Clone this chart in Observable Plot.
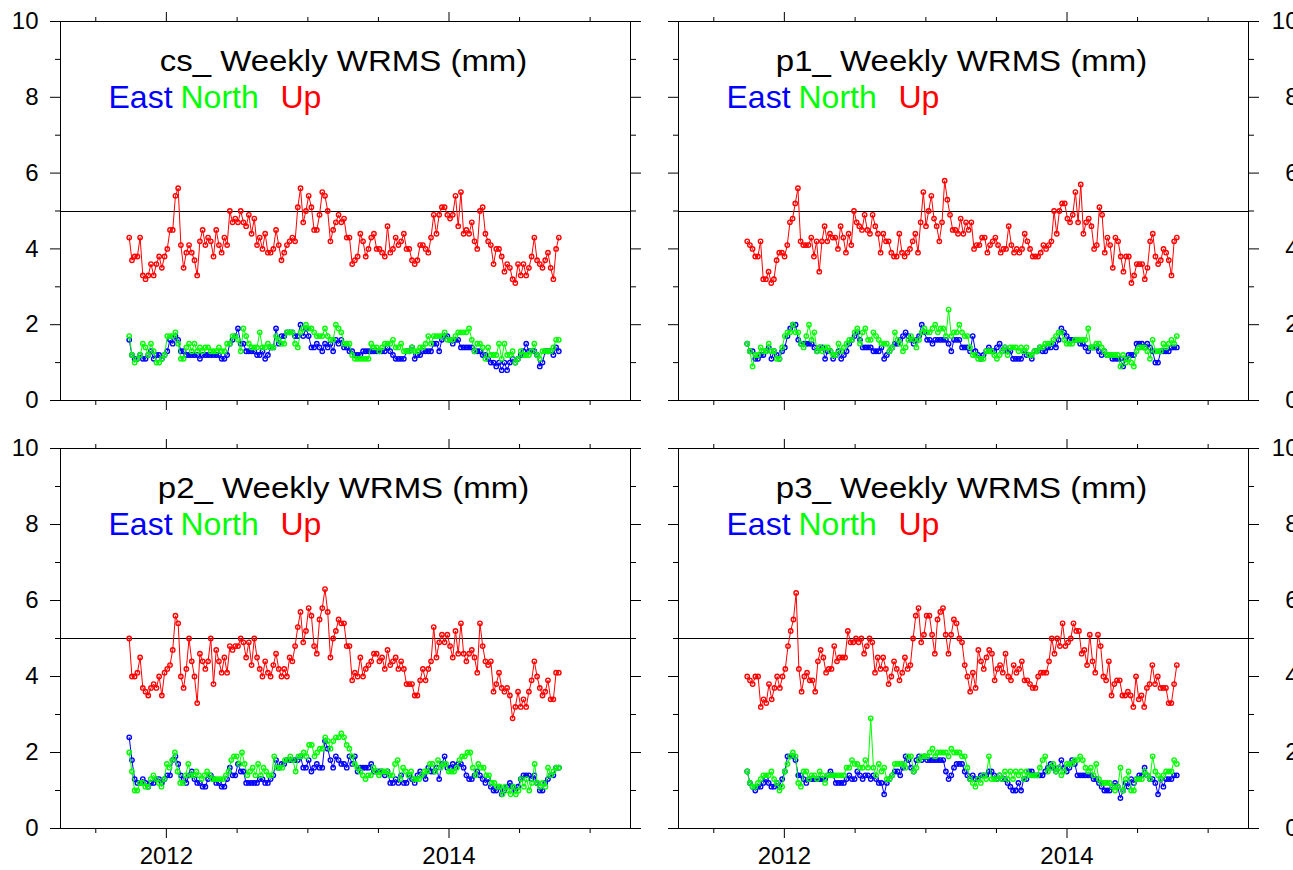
<!DOCTYPE html>
<html><head><meta charset="utf-8">
<script src="https://cdn.jsdelivr.net/npm/d3@7"></script>
<script src="https://cdn.jsdelivr.net/npm/@observablehq/plot@0.6"></script>
<style>
body{margin:0;background:#fff;}
#wrap{position:relative;width:1293px;height:870px;overflow:hidden;background:#fff;}
.panel{position:absolute;}
</style></head><body><div id="wrap"></div>
<script>
// ---------------- data ----------------
const stations = ["cs", "p1", "p2", "p3"];
const components = ["East", "North", "Up"];
const componentColors = ["#0000ff", "#00ff00", "#ff0000"];
const yMajorTicks = [0, 2, 4, 6, 8, 10];
const yMinorTicks = [1, 3, 5, 7, 9];
const referenceLevel = [5];
const xMajorYears = [2012, 2014];
const xMinorYears = [2011.5, 2012.5, 2013, 2013.5, 2014.5, 2015];
const xDomainYears = [2011.25, 2015.286];
const firstWeek = "2011-09-27", lastWeek = "2014-10-12";

const csEast = [1.6,1.2,1.1,1.1,1.2,1.1,1.1,1.2,1.3,1.1,1.2,1.2,1.1,1.2,1.3,1.6,1.5,1.7,1.6,1.3,1.3,1.2,1.2,1.2,1.2,1.2,1.1,1.2,1.2,1.2,1.2,1.2,1.2,1.2,1.1,1.1,1.2,1.5,1.6,1.7,1.9,1.5,1.5,1.3,1.3,1.3,1.3,1.2,1.2,1.3,1.1,1.2,1.4,1.4,1.9,1.5,1.7,1.7,1.8,1.8,1.8,1.7,1.7,2.0,1.7,1.9,1.7,1.4,1.4,1.5,1.4,1.3,1.5,1.4,1.5,1.3,1.6,1.5,1.6,
1.4,1.4,1.3,1.3,1.2,1.2,1.2,1.3,1.3,1.3,1.3,1.3,1.3,1.3,1.3,1.3,1.4,1.3,1.2,1.1,1.1,1.1,1.1,1.3,1.3,1.4,1.1,1.2,1.2,1.3,1.3,1.3,1.3,1.5,1.5,1.3,1.6,1.7,1.7,1.6,1.5,1.6,1.6,1.4,1.4,1.4,1.4,1.4,1.3,1.3,1.3,1.2,1.2,1.1,1.0,1.0,0.9,1.0,0.8,1.0,0.8,1.0,1.1,1.0,1.1,1.2,1.3,1.5,1.3,1.3,1.3,1.2,0.9,1.0,1.3,1.3,1.3,1.2,1.4,1.3];
const csNorth = [1.7,1.2,1.0,1.1,1.2,1.5,1.4,1.2,1.5,1.3,1.0,1.0,1.1,1.2,1.7,1.7,1.7,1.8,1.5,1.1,1.1,1.4,1.5,1.3,1.5,1.3,1.4,1.3,1.4,1.4,1.3,1.3,1.3,1.4,1.3,1.3,1.5,1.5,1.7,1.7,1.6,1.3,1.9,1.7,1.5,1.4,1.4,1.4,1.8,1.4,1.4,1.5,1.4,1.4,1.7,1.6,1.5,1.5,1.8,1.8,1.8,1.5,1.4,1.8,1.9,2.0,1.9,1.9,1.8,1.7,1.7,1.7,1.9,1.7,1.6,1.6,2.0,1.9,1.8,
1.5,1.5,1.5,1.2,1.1,1.1,1.1,1.1,1.1,1.1,1.5,1.4,1.4,1.3,1.4,1.5,1.5,1.5,1.6,1.4,1.4,1.5,1.3,1.3,1.3,1.4,1.3,1.3,1.4,1.4,1.5,1.7,1.5,1.7,1.7,1.7,1.7,1.8,1.6,1.6,1.6,1.7,1.8,1.8,1.8,1.8,1.9,1.6,1.3,1.5,1.5,1.4,1.1,1.4,1.2,1.2,1.2,1.5,1.1,1.5,1.2,1.2,1.3,1.0,1.1,1.3,1.2,1.2,1.2,1.3,1.5,1.2,1.1,1.3,1.3,1.3,1.3,1.4,1.6,1.6];
const csUp = [4.3,3.7,3.8,3.8,4.3,3.3,3.2,3.3,3.6,3.3,3.6,3.8,3.5,3.8,4.0,4.5,4.5,5.4,5.6,4.1,3.5,3.9,4.1,3.9,3.7,3.3,4.2,4.5,4.1,4.3,4.2,3.8,4.5,4.1,3.9,4.3,4.1,5.0,4.7,4.8,4.7,5.0,4.7,4.6,4.9,4.4,4.8,4.1,4.3,4.0,4.4,3.9,3.9,4.0,4.5,4.1,3.7,3.9,4.1,4.2,4.3,4.2,5.1,5.6,4.7,5.0,5.4,5.1,4.5,4.5,4.9,5.5,5.4,5.0,4.2,4.5,4.7,4.9,4.7,
4.8,4.3,4.3,3.6,3.7,3.8,4.4,4.2,3.8,4.0,4.3,4.4,4.0,4.0,3.9,3.8,4.6,3.9,4.0,4.3,4.1,4.2,4.4,4.0,4.0,3.7,3.6,3.7,4.1,4.1,4.0,3.9,4.3,4.9,4.4,4.9,5.1,5.1,4.9,4.8,4.9,5.4,4.6,5.5,4.4,4.5,4.4,4.7,4.2,4.0,5.0,5.1,4.4,4.2,4.1,3.6,4.0,4.0,3.8,3.4,3.6,3.5,3.2,3.1,3.6,3.3,3.6,3.3,3.5,3.8,4.3,3.7,3.6,3.5,3.7,3.9,3.5,3.2,4.0,4.3];

const p1East = [1.5,1.3,1.3,1.1,1.1,1.2,1.2,1.3,1.4,1.1,1.3,1.2,1.1,1.3,1.4,1.7,1.9,2.0,2.0,1.6,1.5,1.5,1.5,1.5,1.5,1.4,1.3,1.4,1.4,1.1,1.3,1.3,1.1,1.2,1.3,1.1,1.2,1.3,1.5,1.6,1.7,1.8,1.6,1.4,1.4,1.4,1.4,1.3,1.3,1.3,1.4,1.1,1.2,1.3,1.4,1.5,1.5,1.6,1.7,1.8,1.7,1.6,1.5,1.6,1.7,2.0,1.8,1.6,1.6,1.5,1.6,1.6,1.6,1.6,1.6,1.5,1.3,1.6,1.6,1.6,
1.4,1.4,1.4,1.3,1.7,1.3,1.2,1.1,1.2,1.3,1.4,1.3,1.3,1.4,1.5,1.3,1.4,1.3,1.3,1.1,1.1,1.1,1.1,1.3,1.2,1.2,1.1,1.3,1.3,1.4,1.3,1.3,1.4,1.4,1.5,1.4,1.6,1.9,1.8,1.7,1.6,1.6,1.6,1.6,1.5,1.5,1.4,1.3,1.4,1.4,1.4,1.3,1.2,1.3,1.2,1.2,1.1,1.1,1.1,1.1,0.9,1.1,1.2,1.2,1.2,1.5,1.5,1.5,1.4,1.5,1.4,1.3,1.0,1.0,1.3,1.3,1.3,1.3,1.4,1.4,1.4];
const p1North = [1.5,1.3,0.9,1.2,1.2,1.4,1.3,1.3,1.5,1.3,1.3,1.1,1.1,1.4,1.7,1.8,1.8,2.0,1.8,1.8,1.5,1.4,1.7,2.0,1.6,1.8,1.3,1.4,1.3,1.4,1.4,1.3,1.2,1.2,1.5,1.3,1.4,1.5,1.6,1.6,1.8,1.9,1.5,1.8,1.9,1.6,1.6,1.8,1.7,1.6,1.5,1.5,1.5,1.3,1.4,1.8,1.6,1.5,1.3,1.4,1.6,1.7,1.6,1.4,1.6,1.8,1.9,1.8,1.8,1.9,2.0,1.8,1.9,1.9,1.7,2.4,1.7,1.8,1.8,2.0,
1.8,1.7,1.7,1.4,1.2,1.2,1.1,1.1,1.1,1.3,1.3,1.3,1.2,1.1,1.2,1.3,1.4,1.2,1.4,1.4,1.4,1.3,1.4,1.3,1.4,1.2,1.2,1.3,1.3,1.4,1.4,1.5,1.5,1.5,1.6,1.7,1.8,1.8,1.6,1.5,1.5,1.5,1.6,1.6,1.6,1.6,1.6,1.9,1.4,1.4,1.5,1.5,1.4,1.3,1.2,1.2,1.2,1.2,1.2,0.9,1.2,1.0,1.1,1.0,0.9,1.3,1.4,1.4,1.4,1.3,1.1,1.6,1.3,1.3,1.3,1.5,1.4,1.5,1.6,1.5,1.7];
const p1Up = [4.2,4.1,4.0,3.8,3.8,4.2,3.2,3.2,3.4,3.1,3.2,3.7,3.9,3.9,3.8,4.1,4.7,4.8,5.2,5.6,
4.2,4.1,4.1,4.1,4.3,3.8,4.2,3.4,4.2,4.6,4.2,4.4,4.3,4.3,4.0,4.6,4.3,3.9,4.4,4.1,5.0,4.7,4.6,4.5,4.9,4.5,4.4,4.9,4.6,4.4,3.9,4.4,4.2,4.2,3.9,3.8,3.8,4.4,3.9,3.8,3.9,4.0,4.2,4.4,3.9,4.7,5.5,4.6,5.0,5.4,4.8,4.6,4.2,4.7,5.8,5.3,4.9,4.5,4.5,4.4,4.8,4.4,
4.7,4.5,4.7,4.0,4.1,4.1,4.3,4.3,3.9,4.1,4.2,4.3,4.1,3.9,4.0,4.0,4.6,4.1,3.9,4.0,3.9,4.0,4.4,4.2,4.0,3.8,3.8,3.8,3.9,4.1,4.0,4.1,4.2,5.0,4.4,5.0,5.2,5.2,4.8,4.7,4.9,5.5,4.7,5.7,4.4,4.7,4.8,4.6,4.0,4.1,5.1,4.9,3.9,4.3,4.1,3.5,4.3,4.2,3.8,3.4,3.8,3.8,3.1,3.3,3.6,3.6,3.6,3.2,3.5,4.2,4.4,3.8,3.6,3.7,4.0,3.9,3.7,3.3,4.2,4.3];

const p2East = [2.4,1.8,1.3,1.2,1.2,1.3,1.2,1.1,1.2,1.2,1.3,1.3,1.2,1.3,1.4,1.4,1.8,1.9,1.7,1.4,1.3,1.2,1.4,1.5,1.3,1.2,1.2,1.1,1.1,1.3,1.4,1.3,1.2,1.2,1.1,1.1,1.3,1.6,1.4,1.4,1.7,1.5,1.5,1.2,1.2,1.2,1.2,1.2,1.3,1.3,1.2,1.2,1.3,1.4,1.8,1.6,1.7,1.7,1.8,1.8,1.8,1.8,1.8,1.9,1.6,1.6,1.8,1.5,1.6,1.7,1.6,1.6,2.3,2.1,1.8,1.6,1.9,1.8,1.7,
1.7,1.6,1.9,1.7,1.9,1.5,1.6,1.6,1.6,1.6,1.7,1.5,1.5,1.5,1.5,1.4,1.5,1.2,1.2,1.3,1.2,1.4,1.2,1.2,1.4,1.3,1.2,1.4,1.5,1.4,1.3,1.6,1.5,1.5,1.6,1.3,1.7,1.9,1.6,1.6,1.7,1.6,1.7,1.7,1.6,1.4,1.3,1.3,1.4,1.5,1.4,1.3,1.2,1.3,1.1,1.0,1.0,1.1,0.9,1.0,1.1,1.2,1.1,1.0,1.1,1.3,1.4,1.4,1.4,1.3,1.4,1.2,1.0,1.0,1.2,1.3,1.4,1.4,1.6,1.6];
const p2North = [2.0,1.5,1.0,1.0,1.2,1.2,1.1,1.1,1.3,1.4,1.3,1.2,1.1,1.3,1.7,1.6,1.8,2.0,1.5,1.2,1.2,1.4,1.7,1.4,1.4,1.5,1.4,1.3,1.4,1.5,1.4,1.3,1.3,1.3,1.3,1.3,1.4,1.5,1.8,1.9,1.9,1.7,2.0,1.7,1.4,1.5,1.6,1.4,1.7,1.4,1.6,1.5,1.4,1.4,1.9,1.6,1.6,1.6,1.8,1.8,1.9,1.8,1.5,1.9,1.9,2.0,1.9,2.2,2.2,1.9,2.0,2.1,2.1,2.4,2.3,2.1,2.3,2.4,2.4,
2.5,2.4,2.2,2.1,1.9,1.7,1.6,1.5,1.4,1.3,1.4,1.4,1.6,1.5,1.4,1.5,1.5,1.5,1.4,1.4,1.7,1.8,1.3,1.6,1.5,1.4,1.5,1.3,1.3,1.3,1.4,1.5,1.5,1.7,1.7,1.5,1.8,1.6,1.7,1.7,1.5,1.5,1.5,1.6,1.8,1.9,1.9,2.0,2.0,1.6,1.4,1.7,1.6,1.6,1.4,1.4,1.2,1.2,1.1,1.1,0.9,1.1,1.0,0.9,1.1,0.9,1.0,1.3,1.1,1.3,1.0,1.2,1.7,1.2,1.1,1.2,1.1,1.6,1.4,1.5,1.6,1.6];
const p2Up = [5.0,4.0,4.0,4.1,4.5,3.7,3.6,3.5,3.7,3.8,3.7,4.0,3.5,4.1,4.2,4.3,4.7,5.6,5.4,4.0,3.7,4.2,5.0,4.4,4.0,3.3,4.6,4.4,4.2,4.4,5.0,3.8,4.7,4.4,4.1,4.5,4.1,4.8,4.7,4.8,4.8,5.0,4.9,4.5,4.9,4.3,5.0,4.5,4.2,4.0,4.4,4.1,4.0,4.3,4.6,4.2,4.0,4.2,4.0,4.5,4.4,4.8,5.3,5.7,4.9,5.2,5.8,5.6,4.8,4.6,5.5,5.8,6.3,5.7,4.5,5.0,5.2,5.5,5.4,
5.4,4.8,4.8,3.9,4.1,4.0,4.5,4.0,4.2,4.3,4.4,4.6,4.6,4.4,4.5,4.2,4.7,4.3,4.4,4.5,4.2,4.4,4.2,3.8,3.8,3.8,3.5,3.5,3.9,4.2,3.9,4.2,4.4,5.3,4.5,4.9,5.1,4.9,5.1,4.8,4.5,5.2,4.6,5.4,4.6,4.4,4.6,4.7,4.5,4.1,5.4,4.8,4.4,4.3,4.4,3.6,3.8,4.1,3.7,3.6,3.7,3.5,2.9,3.2,3.6,3.2,3.4,3.2,3.6,3.9,4.4,4.0,3.7,3.5,3.6,3.9,3.4,3.4,4.1,4.1];

const p3East = [1.5,1.2,1.1,1.0,1.1,1.1,1.2,1.3,1.2,1.1,1.1,1.2,1.1,1.3,1.5,1.9,1.9,1.9,1.8,1.4,1.4,1.3,1.2,1.3,1.3,1.3,1.3,1.3,1.3,1.3,1.4,1.5,1.4,1.2,1.2,1.2,1.2,1.3,1.4,1.3,1.3,1.5,1.4,1.3,1.4,1.4,1.3,1.4,1.3,1.2,1.2,0.9,1.2,1.3,1.4,1.5,1.5,1.4,1.6,1.9,1.8,1.6,1.5,1.8,1.9,1.8,1.9,1.8,1.8,1.8,1.8,1.8,1.8,1.8,1.5,1.3,1.4,1.6,1.7,1.7,
1.7,1.5,1.4,1.3,1.4,1.3,1.3,1.4,1.4,1.4,1.5,1.5,1.4,1.3,1.4,1.3,1.3,1.2,1.1,1.0,1.0,1.2,1.0,1.3,1.3,1.5,1.5,1.4,1.4,1.4,1.4,1.5,1.6,1.7,1.6,1.5,1.6,1.8,1.6,1.5,1.6,1.8,1.7,1.4,1.4,1.4,1.4,1.4,1.4,1.3,1.3,1.2,1.1,1.0,1.0,1.0,1.1,1.2,1.1,0.8,1.0,1.2,1.1,1.3,1.2,1.3,1.4,1.4,1.6,1.4,1.3,1.3,1.2,0.9,1.3,1.1,1.3,1.3,1.3,1.4,1.4];
const p3North = [1.5,1.2,1.1,1.1,1.2,1.3,1.4,1.4,1.4,1.5,1.3,1.2,1.0,1.1,1.5,1.7,1.9,2.0,1.9,1.2,1.1,1.5,1.5,1.3,1.4,1.4,1.3,1.5,1.4,1.2,1.4,1.4,1.4,1.4,1.4,1.4,1.4,1.6,1.6,1.8,1.7,1.7,1.6,1.6,1.8,1.6,2.9,1.6,1.4,1.7,1.5,1.6,1.3,1.3,1.4,1.7,1.7,1.7,1.7,1.6,1.9,1.9,1.5,1.6,1.8,1.9,1.9,1.9,2.0,2.1,1.9,2.0,2.0,2.0,2.0,1.9,2.1,2.0,2.0,2.0,
1.9,1.9,1.6,1.3,1.2,1.1,1.3,1.2,1.4,1.3,1.9,1.3,1.3,1.3,1.4,1.3,1.5,1.3,1.5,1.3,1.5,1.4,1.5,1.3,1.5,1.4,1.4,1.4,1.4,1.6,1.8,1.9,1.5,1.6,1.7,1.5,1.6,1.4,1.5,1.7,1.7,1.7,1.8,1.8,1.9,1.8,1.6,1.5,1.6,1.4,1.7,1.3,1.2,1.2,1.2,1.2,1.1,1.0,1.1,1.6,1.0,1.3,1.5,1.0,1.0,1.3,1.3,1.3,1.5,1.4,1.3,1.9,1.5,1.4,1.3,1.4,1.5,1.5,1.5,1.8,1.7];
const p3Up = [4.0,3.9,3.8,4.0,4.0,3.2,3.4,3.3,3.8,3.4,3.7,4.0,3.7,4.0,4.2,4.8,5.2,5.5,6.2,4.2,3.6,4.0,4.1,3.9,3.9,3.6,4.4,4.7,4.5,4.1,4.2,4.2,4.8,4.4,4.5,4.5,4.5,5.2,4.9,4.9,5.0,4.9,5.0,4.6,4.8,5.0,4.9,4.1,4.5,4.2,4.5,4.2,3.8,4.0,4.4,4.2,3.9,4.1,4.5,4.2,4.3,5.0,5.6,5.8,4.9,5.1,5.6,5.6,5.1,4.6,5.5,5.7,5.8,5.1,4.6,5.1,5.5,5.4,5.0,
4.9,4.3,4.0,3.6,4.1,3.7,4.7,4.4,4.2,4.5,4.7,4.6,3.9,4.2,4.3,4.1,4.6,4.0,3.9,4.3,4.1,4.2,4.4,3.9,3.9,3.8,3.7,3.7,4.0,4.1,4.1,4.1,4.4,5.0,4.6,5.0,4.8,5.4,4.8,4.9,5.0,5.4,5.2,5.2,4.6,4.7,4.3,5.1,4.4,4.1,5.1,4.8,4.0,3.9,4.4,3.5,3.8,3.9,3.9,3.5,3.5,3.6,3.5,3.2,4.0,3.4,3.5,3.2,3.7,3.8,4.3,3.8,4.0,3.7,3.7,3.7,3.3,3.3,3.8,4.3];

const seriesByStation = {
  cs: [csEast, csNorth, csUp],
  p1: [p1East, p1North, p1Up],
  p2: [p2East, p2North, p2Up],
  p3: [p3East, p3North, p3Up]
};

// ---------------- helpers ----------------
function decYear(y) {
  const yr = Math.floor(y);
  const a = Date.UTC(yr, 0, 1), b = Date.UTC(yr + 1, 0, 1);
  return new Date(a + (y - yr) * (b - a));
}
function weeklyRows(values) {
  const t0 = +new Date(firstWeek + "T00:00:00Z"), t1 = +new Date(lastWeek + "T00:00:00Z");
  const n = values.length;
  return values.map((v, i) => ({date: new Date(t0 + (t1 - t0) * i / (n - 1)), value: v}));
}
const xMajorDates = xMajorYears.map(decYear);
const xMinorDates = xMinorYears.map(decYear);
const fontFamily = "'Liberation Sans', Arial, Helvetica, sans-serif";
const blank = () => "";

function panel(station, col, row) {
  const leftCol = col === 0, bottomRow = row === 1;
  const marks = [];
  marks.push(Plot.ruleY(referenceLevel, {stroke: "black", strokeWidth: 1, shapeRendering: "crispEdges"}));
  seriesByStation[station].forEach((vals, k) => {
    const rows = weeklyRows(vals);
    marks.push(Plot.line(rows, {x: "date", y: "value", stroke: componentColors[k], strokeWidth: 1}));
    marks.push(Plot.dot(rows, {x: "date", y: "value", r: 2.2, stroke: componentColors[k], strokeWidth: 1.4, fill: "none"}));
  });
  // y axes (both sides)
  marks.push(Plot.axisY({anchor: "left", ticks: yMajorTicks, tickSize: 10, tickPadding: 12, fontSize: 24, tickFormat: leftCol ? (d => String(d)) : blank, label: null}));
  marks.push(Plot.axisY({anchor: "left", ticks: yMinorTicks, tickSize: 5, tickFormat: blank, label: null}));
  marks.push(Plot.axisY({anchor: "right", ticks: yMajorTicks, tickSize: 10, tickPadding: 40, textAnchor: "end", fontSize: 24, tickFormat: leftCol ? blank : (d => String(d)), label: null}));
  marks.push(Plot.axisY({anchor: "right", ticks: yMinorTicks, tickSize: 5, tickFormat: blank, label: null}));
  // x axes (both sides)
  marks.push(Plot.axisX({anchor: "bottom", ticks: xMajorDates, tickSize: 10, tickPadding: 8, fontSize: 24, tickFormat: bottomRow ? d3.utcFormat("%Y") : blank, label: null}));
  marks.push(Plot.axisX({anchor: "bottom", ticks: xMinorDates, tickSize: 5, tickFormat: blank, label: null}));
  marks.push(Plot.axisX({anchor: "top", ticks: xMajorDates, tickSize: 10, tickFormat: blank, label: null}));
  marks.push(Plot.axisX({anchor: "top", ticks: xMinorDates, tickSize: 5, tickFormat: blank, label: null}));
  marks.push(Plot.frame({stroke: "black", strokeWidth: 1}));
  // title and legend
  marks.push(Plot.text([station + "_ Weekly WRMS (mm)"], {text: d => d, frameAnchor: "top", dx: -2, dy: 49, lineAnchor: "bottom", fontSize: 33, fill: "black"}));
  const legendDx = [48, 120, 220];
  components.forEach((c, k) => {
    marks.push(Plot.text([c], {text: d => d, frameAnchor: "top-left", dx: legendDx[k], dy: 86, lineAnchor: "bottom", textAnchor: "start", fontSize: 32, fill: componentColors[k]}));
  });

  const W = leftCol ? 646 : 647;
  const H = 435;
  const svg = Plot.plot({
    width: W, height: H,
    marginLeft: leftCol ? 60 : 32,
    marginRight: leftCol ? 16 : 45,
    marginTop: bottomRow ? 13 : 21,
    marginBottom: bottomRow ? 42 : 35,
    x: {type: "utc", domain: xDomainYears.map(decYear)},
    y: {domain: [0, 10]},
    style: {fontFamily, fontSize: "24px", color: "black", background: "white", overflow: "visible"},
    marks
  });
  // slightly flatten the title glyphs about their baseline, as in the original rendering
  svg.querySelectorAll("text").forEach(t => {
    if (t.textContent.includes("Weekly")) {
      const tr = t.getAttribute("transform") || "";
      const y = +(t.getAttribute("y") || 0);
      t.setAttribute("transform", `${tr} translate(0,${y}) scale(1,0.9) translate(0,${-y})`);
    }
  });
  return svg;
}

const wrap = document.getElementById("wrap");
stations.forEach((s, i) => {
  const col = i % 2, row = Math.floor(i / 2);
  const div = document.createElement("div");
  div.className = "panel";
  div.style.left = (col === 0 ? 0 : 646) + "px";
  div.style.top = (row === 0 ? 0 : 435) + "px";
  div.appendChild(panel(s, col, row));
  wrap.appendChild(div);
});
</script>
